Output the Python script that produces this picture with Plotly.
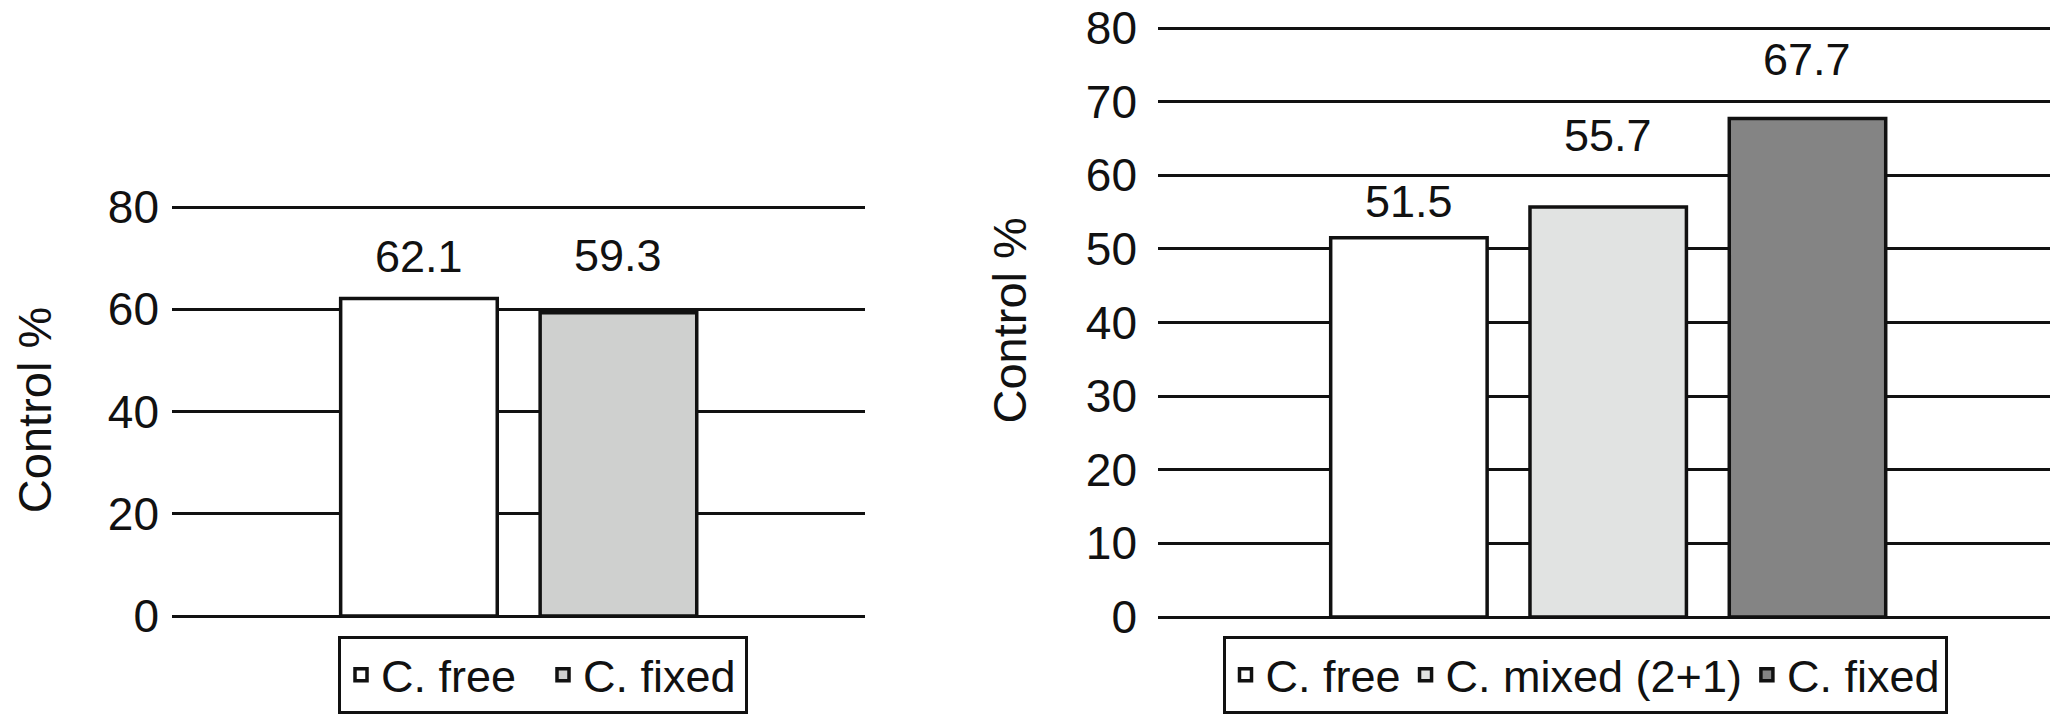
import plotly.graph_objects as go

# left panel
left_groups = ["C. free", "C. fixed"]
left_values = [62.1, 59.3]
left_ticks = [0, 20, 40, 60, 80]

# right panel
right_groups = ["C. free", "C. mixed (2+1)", "C. fixed"]
right_values = [51.5, 55.7, 67.7]
right_ticks = [0, 10, 20, 30, 40, 50, 60, 70, 80]

left_colors = ["#ffffff", "#cfd0cf"]
right_colors = ["#ffffff", "#e1e3e2", "#848484"]
# pixel lift of each value label above its bar (labels were hand placed)
left_label_shift = [15, 30]
right_label_shift = [9, 44, 32]

FONT = "Liberation Sans, Arial, sans-serif"
INK = "#111111"
# the html body keeps its default 8px margin, so the figure is drawn that
# much smaller and every page position below is taken back by OFF
OFF = 8
W, H = 2058 - OFF, 716 - OFF
YMAX = 80.6  # a little headroom so the 80 gridline is drawn


def fx(px):
    return (px - OFF) / W


def fy(px):
    return 1 - (px - OFF) / H


def y_domain(px_zero, px_eighty):
    per_unit = (px_zero - px_eighty) / 80.0
    top = px_zero - YMAX * per_unit
    return [fy(px_zero), fy(top)]


def add_bars(fig, groups, values, colors, xaxis, yaxis, legend):
    for name, val, col in zip(groups, values, colors):
        fig.add_trace(
            go.Bar(
                x=[name],
                y=[val],
                name=name,
                width=0.785,
                marker=dict(color=col, line=dict(color=INK, width=3.5)),
                xaxis=xaxis,
                yaxis=yaxis,
                legend=legend,
            )
        )


def value_labels(groups, values, shifts, xref, yref):
    out = []
    for name, val, dy in zip(groups, values, shifts):
        out.append(
            dict(
                x=name,
                y=val,
                xref=xref,
                yref=yref,
                text=f"{val:.1f}",
                showarrow=False,
                yanchor="bottom",
                yshift=dy,
                font=dict(family=FONT, size=45, color=INK),
            )
        )
    return out


fig = go.Figure()
add_bars(fig, left_groups, left_values, left_colors, "x", "y", "legend")
add_bars(fig, right_groups, right_values, right_colors, "x2", "y2", "legend2")

yaxis_style = dict(
    showgrid=True,
    gridcolor=INK,
    gridwidth=3,
    zeroline=True,
    zerolinecolor=INK,
    zerolinewidth=3,
    showline=False,
    ticks="",
    ticklabeloverflow="allow",
    range=[0, YMAX],
    tickfont=dict(family=FONT, size=46, color=INK),
    title_font=dict(family=FONT, size=47, color=INK),
    title_text="Control %",
)

legend_style = dict(
    orientation="h",
    xanchor="center",
    yanchor="bottom",
    y=2 / H,
    bordercolor=INK,
    borderwidth=3,
    font=dict(family=FONT, size=45, color=INK),
    itemwidth=30,
    traceorder="normal",
)

fig.update_layout(
    width=W,
    height=H,
    margin=dict(l=0, r=0, t=0, b=0, autoexpand=False),
    paper_bgcolor="white",
    plot_bgcolor="white",
    barmode="overlay",
    font=dict(family=FONT, color=INK),
    xaxis=dict(
        domain=[fx(172), fx(865)],
        categoryorder="array",
        categoryarray=left_groups,
        range=[-1.238, 2.236],
        showticklabels=False,
        showgrid=False,
        zeroline=False,
        ticks="",
    ),
    xaxis2=dict(
        domain=[fx(1158), 1.0],
        categoryorder="array",
        categoryarray=right_groups,
        range=[-1.259, 3.257],
        showticklabels=False,
        showgrid=False,
        zeroline=False,
        ticks="",
        anchor="y2",
    ),
    yaxis=dict(
        domain=y_domain(616, 207),
        tickvals=left_ticks,
        ticklabelstandoff=12,
        title_standoff=62,
        anchor="x",
        **yaxis_style,
    ),
    yaxis2=dict(
        domain=y_domain(617, 28),
        tickvals=right_ticks,
        ticklabelstandoff=20,
        title_standoff=44,
        anchor="x2",
        **yaxis_style,
    ),
    legend=dict(x=fx(543), entrywidth=157, **legend_style),
    legend2=dict(x=fx(1585), **legend_style),
    annotations=value_labels(left_groups, left_values, left_label_shift, "x", "y")
    + value_labels(right_groups, right_values, right_label_shift, "x2", "y2"),
)

fig.write_html("out.html")
